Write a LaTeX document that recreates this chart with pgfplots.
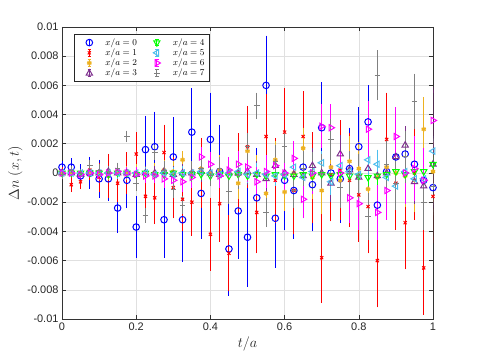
\documentclass[border=0pt]{standalone}
\usepackage{fontspec}
\setmainfont{Liberation Sans}
\usepackage{pgfplots}
\pgfplotsset{compat=1.18}
\usepackage{pgfplotstable}

\definecolor{c0}{rgb}{0,0,1}
\definecolor{c1}{rgb}{1,0,0}
\definecolor{c2}{rgb}{0.929,0.694,0.125}
\definecolor{c3}{rgb}{0.494,0.184,0.556}
\definecolor{c4}{rgb}{0,1,0}
\definecolor{c5}{rgb}{0.302,0.745,0.933}
\definecolor{c6}{rgb}{1,0,1}
\definecolor{c7}{rgb}{0.5,0.5,0.5}

% columns: t/a, Delta n, error
\pgfplotstableread{
t y e
0.000 0.0004 0.0002
0.025 0.0004 0.0004
0.050 -0.0002 0.0006
0.075 0.0000 0.0009
0.100 -0.0004 0.0011
0.125 -0.0004 0.0013
0.150 -0.0024 0.0015
0.175 -0.0005 0.0017
0.200 -0.0037 0.0019
0.225 0.0016 0.0021
0.250 0.0018 0.0022
0.275 -0.0032 0.0024
0.300 0.0011 0.0025
0.325 -0.0032 0.0027
0.350 0.0028 0.0028
0.375 -0.0014 0.0029
0.400 0.0023 0.0030
0.425 0.0001 0.0030
0.450 -0.0052 0.0030
0.475 -0.0026 0.0031
0.500 -0.0044 0.0032
0.525 -0.0017 0.0032
0.550 0.0060 0.0032
0.575 -0.0031 0.0032
0.600 -0.0005 0.0032
0.625 -0.0012 0.0031
0.650 0.0004 0.0030
0.675 -0.0008 0.0030
0.700 0.0031 0.0029
0.725 0.0000 0.0029
0.750 -0.0004 0.0028
0.775 0.0003 0.0026
0.800 0.0018 0.0025
0.825 0.0035 0.0023
0.850 -0.0022 0.0022
0.875 0.0001 0.0020
0.900 0.0011 0.0018
0.925 0.0013 0.0017
0.950 0.0006 0.0015
0.975 -0.0005 0.0013
1.000 -0.0010 0.0012
}\xa
\pgfplotstableread{
t y e
0.000 0.0000 0.0002
0.025 -0.0008 0.0003
0.050 -0.0006 0.0003
0.075 0.0002 0.0005
0.100 -0.0003 0.0008
0.125 -0.0002 0.0013
0.150 -0.0007 0.0011
0.175 0.0000 0.0012
0.200 0.0013 0.0013
0.225 -0.0016 0.0016
0.250 -0.0017 0.0016
0.275 0.0014 0.0017
0.300 -0.0010 0.0019
0.325 -0.0018 0.0020
0.350 -0.0020 0.0021
0.375 0.0000 0.0022
0.400 -0.0042 0.0023
0.425 -0.0021 0.0024
0.450 -0.0055 0.0024
0.475 0.0000 0.0025
0.500 0.0018 0.0026
0.525 -0.0027 0.0026
0.550 0.0025 0.0027
0.575 -0.0005 0.0027
0.600 0.0028 0.0028
0.625 -0.0012 0.0028
0.650 0.0025 0.0029
0.675 -0.0003 0.0029
0.700 -0.0058 0.0029
0.725 -0.0001 0.0030
0.750 0.0002 0.0032
0.775 -0.0005 0.0030
0.800 -0.0015 0.0030
0.825 -0.0023 0.0030
0.850 -0.0060 0.0030
0.875 0.0023 0.0030
0.900 -0.0007 0.0030
0.925 -0.0034 0.0030
0.950 0.0000 0.0030
0.975 -0.0065 0.0030
1.000 -0.0016 0.0030
}\xb
\pgfplotstableread{
t y e
0.000 0.0000 0.0001
0.025 0.0000 0.0001
0.050 -0.0001 0.0001
0.075 0.0001 0.0002
0.100 0.0000 0.0002
0.125 0.0000 0.0003
0.150 0.0001 0.0003
0.175 0.0000 0.0003
0.200 0.0000 0.0004
0.225 -0.0001 0.0004
0.250 0.0000 0.0005
0.275 0.0002 0.0005
0.300 0.0001 0.0005
0.325 0.0009 0.0004
0.350 0.0000 0.0006
0.375 0.0003 0.0007
0.400 0.0000 0.0007
0.425 0.0002 0.0008
0.450 0.0000 0.0008
0.475 -0.0007 0.0009
0.500 0.0015 0.0009
0.525 0.0000 0.0010
0.550 -0.0014 0.0010
0.575 0.0009 0.0011
0.600 -0.0013 0.0011
0.625 0.0000 0.0012
0.650 0.0017 0.0012
0.675 -0.0003 0.0013
0.700 -0.0012 0.0014
0.725 0.0004 0.0014
0.750 -0.0005 0.0015
0.775 0.0008 0.0015
0.800 0.0003 0.0016
0.825 -0.0011 0.0016
0.850 -0.0003 0.0017
0.875 0.0004 0.0017
0.900 0.0000 0.0018
0.925 -0.0002 0.0019
0.950 -0.0005 0.0020
0.975 0.0030 0.0020
1.000 0.0001 0.0021
}\xc
\pgfplotstableread{
t y e
0.000 0.0000 0.0001
0.025 0.0000 0.0001
0.050 -0.0001 0.0001
0.075 0.0000 0.0001
0.100 0.0000 0.0002
0.125 0.0001 0.0002
0.150 0.0000 0.0002
0.175 0.0000 0.0002
0.200 -0.0001 0.0003
0.225 0.0000 0.0003
0.250 0.0000 0.0003
0.275 0.0001 0.0004
0.300 -0.0001 0.0004
0.325 0.0000 0.0004
0.350 0.0000 0.0005
0.375 0.0001 0.0005
0.400 0.0000 0.0005
0.425 -0.0001 0.0006
0.450 0.0000 0.0006
0.475 0.0000 0.0007
0.500 0.0001 0.0007
0.525 -0.0001 0.0007
0.550 -0.0004 0.0008
0.575 0.0005 0.0008
0.600 0.0000 0.0009
0.625 -0.0001 0.0009
0.650 -0.0002 0.0009
0.675 0.0005 0.0010
0.700 0.0000 0.0010
0.725 -0.0007 0.0011
0.750 0.0013 0.0011
0.775 0.0002 0.0011
0.800 -0.0003 0.0012
0.825 0.0003 0.0012
0.850 -0.0002 0.0012
0.875 0.0000 0.0013
0.900 0.0011 0.0013
0.925 0.0019 0.0011
0.950 -0.0006 0.0013
0.975 -0.0009 0.0014
1.000 0.0006 0.0014
}\xd
\pgfplotstableread{
t y e
0.000 0.0000 0.0001
0.025 0.0000 0.0001
0.050 0.0000 0.0001
0.075 0.0000 0.0001
0.100 0.0000 0.0001
0.125 -0.0001 0.0001
0.150 0.0000 0.0001
0.175 0.0000 0.0001
0.200 -0.0001 0.0001
0.225 0.0000 0.0001
0.250 -0.0001 0.0001
0.275 -0.0001 0.0002
0.300 0.0000 0.0002
0.325 -0.0001 0.0002
0.350 -0.0001 0.0002
0.375 -0.0001 0.0002
0.400 -0.0002 0.0002
0.425 -0.0001 0.0002
0.450 -0.0002 0.0002
0.475 -0.0001 0.0002
0.500 -0.0002 0.0002
0.525 -0.0001 0.0003
0.550 -0.0002 0.0003
0.575 -0.0001 0.0003
0.600 -0.0002 0.0003
0.625 -0.0002 0.0003
0.650 -0.0001 0.0003
0.675 -0.0002 0.0003
0.700 -0.0001 0.0003
0.725 -0.0002 0.0003
0.750 -0.0001 0.0003
0.775 -0.0002 0.0003
0.800 -0.0002 0.0004
0.825 -0.0003 0.0004
0.850 -0.0002 0.0004
0.875 -0.0001 0.0004
0.900 0.0001 0.0004
0.925 -0.0001 0.0004
0.950 0.0001 0.0004
0.975 0.0001 0.0004
1.000 0.0006 0.0004
}\xe
\pgfplotstableread{
t y e
0.000 0.0000 0.0001
0.025 0.0000 0.0001
0.050 0.0000 0.0001
0.075 0.0000 0.0001
0.100 0.0000 0.0001
0.125 0.0000 0.0001
0.150 0.0000 0.0002
0.175 0.0000 0.0002
0.200 0.0000 0.0002
0.225 0.0000 0.0002
0.250 -0.0001 0.0002
0.275 0.0000 0.0002
0.300 -0.0001 0.0003
0.325 0.0000 0.0003
0.350 0.0000 0.0003
0.375 0.0001 0.0003
0.400 0.0000 0.0003
0.425 -0.0001 0.0004
0.450 0.0000 0.0004
0.475 0.0001 0.0004
0.500 -0.0001 0.0004
0.525 0.0000 0.0005
0.550 -0.0001 0.0005
0.575 -0.0002 0.0005
0.600 -0.0001 0.0005
0.625 0.0004 0.0006
0.650 -0.0003 0.0006
0.675 0.0001 0.0006
0.700 0.0007 0.0006
0.725 -0.0006 0.0007
0.750 0.0005 0.0007
0.775 0.0001 0.0007
0.800 -0.0001 0.0007
0.825 0.0009 0.0008
0.850 0.0006 0.0008
0.875 -0.0003 0.0008
0.900 -0.0009 0.0008
0.925 0.0001 0.0008
0.950 -0.0004 0.0008
0.975 -0.0004 0.0008
1.000 0.0015 0.0008
}\xf
\pgfplotstableread{
t y e
0.000 0.0000 0.0001
0.025 0.0000 0.0001
0.050 -0.0001 0.0001
0.075 0.0000 0.0001
0.100 -0.0001 0.0002
0.125 0.0000 0.0002
0.150 0.0001 0.0002
0.175 0.0000 0.0002
0.200 -0.0001 0.0003
0.225 -0.0002 0.0003
0.250 -0.0002 0.0003
0.275 -0.0004 0.0004
0.300 -0.0005 0.0004
0.325 -0.0006 0.0005
0.350 -0.0003 0.0005
0.375 0.0011 0.0005
0.400 0.0006 0.0006
0.425 -0.0002 0.0006
0.450 0.0002 0.0007
0.475 0.0006 0.0007
0.500 0.0004 0.0008
0.525 -0.0006 0.0008
0.550 0.0001 0.0009
0.575 0.0005 0.0009
0.600 0.0000 0.0010
0.625 0.0010 0.0010
0.650 -0.0018 0.0011
0.675 0.0000 0.0012
0.700 0.0032 0.0013
0.725 0.0031 0.0014
0.750 0.0000 0.0014
0.775 -0.0017 0.0015
0.800 -0.0021 0.0016
0.825 0.0030 0.0017
0.850 -0.0027 0.0017
0.875 -0.0012 0.0018
0.900 0.0025 0.0018
0.925 0.0000 0.0019
0.950 0.0003 0.0020
0.975 -0.0005 0.0020
1.000 0.0036 0.0021
}\xg
\pgfplotstableread{
t y e
0.000 -0.0001 0.0001
0.025 0.0002 0.0001
0.050 0.0000 0.0001
0.075 0.0005 0.0002
0.100 0.0002 0.0002
0.125 0.0001 0.0002
0.150 0.0003 0.0002
0.175 0.0025 0.0002
0.200 -0.0007 0.0003
0.225 -0.0029 0.0003
0.250 0.0014 0.0003
0.275 0.0002 0.0004
0.300 -0.0011 0.0004
0.325 -0.0022 0.0004
0.350 0.0001 0.0005
0.375 0.0003 0.0005
0.400 -0.0002 0.0005
0.425 0.0003 0.0006
0.450 -0.0013 0.0006
0.475 -0.0002 0.0007
0.500 0.0018 0.0007
0.525 0.0046 0.0007
0.550 -0.0027 0.0008
0.575 0.0008 0.0009
0.600 0.0018 0.0009
0.625 -0.0012 0.0010
0.650 0.0003 0.0010
0.675 0.0001 0.0011
0.700 0.0000 0.0011
0.725 0.0023 0.0012
0.750 -0.0010 0.0012
0.775 0.0000 0.0013
0.800 -0.0002 0.0013
0.825 -0.0030 0.0014
0.850 0.0067 0.0015
0.875 0.0006 0.0015
0.900 -0.0007 0.0016
0.925 0.0011 0.0016
0.950 0.0049 0.0017
0.975 -0.0020 0.0017
1.000 -0.0009 0.0018
}\xh

\pgfplotsset{
  errleg/.style={legend image code/.code={
    \draw[solid,line width=1pt] (0.3cm,-0.12cm)--(0.3cm,0.12cm)
      (0.24cm,-0.12cm)--(0.36cm,-0.12cm) (0.24cm,0.12cm)--(0.36cm,0.12cm);
    \draw plot coordinates {(0.3cm,0cm)};
    \path (-0.1cm,0cm) (0.78cm,0cm);}},
  ser/.style={only marks, line width=1pt, errleg,
    error bars/.cd, y dir=both, y explicit,
    error bar style={line width=1pt, solid},
    error mark options={mark size=3bp, line width=1pt},
    /pgfplots/.cd},
}

\begin{document}
\begin{tikzpicture}
\useasboundingbox (-62bp,-40bp) rectangle (416bp,319bp);
\begin{axis}[
  scale only axis,
  width=371bp, height=292bp,
  xmin=0, xmax=1, ymin=-0.01, ymax=0.01,
  xtick={0,0.2,0.4,0.6,0.8,1},
  xticklabels={0,0.2,0.4,0.6,0.8,1},
  ytick={-0.01,-0.008,-0.006,-0.004,-0.002,0,0.002,0.004,0.006,0.008,0.01},
  yticklabels={-0.01,-0.008,-0.006,-0.004,-0.002,0,0.002,0.004,0.006,0.008,0.01},
  scaled ticks=false,
  tick align=inside, major tick length=4bp,
  grid=major, grid style={black!12, line width=0.6pt},
  axis line style={black!80, line width=0.6pt},
  tick style={black!80, line width=0.6pt},
  tick label style={font=\fontsize{11}{13}\selectfont, text=black!85},
  xlabel={$t/a$}, ylabel={$\Delta n\;(x,t)$},
  label style={font=\fontsize{13.5}{15}\selectfont, text=black!85},
  ylabel style={yshift=-2bp},
  legend style={at={(axis description cs:0,1)}, anchor=north west,
    xshift=12bp, yshift=-7bp, draw=black!85, line width=1pt,
    font=\fontsize{9}{10}\selectfont, legend columns=4,
    row sep=-2pt,
    /tikz/every even column/.append style={column sep=6bp}},
  transpose legend,
  legend cell align=left,
]
\addplot[ser, c0, mark=o, mark size=3.3bp] table[x=t, y=y, y error=e] {\xa};
\addplot[ser, c1, mark=x, mark size=2.2bp] table[x=t, y=y, y error=e] {\xb};
\addplot[ser, c2, mark=asterisk, mark size=2.4bp, mark options={line width=1.4pt}] table[x=t, y=y, y error=e] {\xc};
\addplot[ser, c3, mark=triangle, mark size=3.6bp] table[x=t, y=y, y error=e] {\xd};
\addplot[ser, c4, mark=triangle, mark size=3.6bp, mark options={rotate=180}] table[x=t, y=y, y error=e] {\xe};
\addplot[ser, c5, mark=triangle, mark size=3.6bp, mark options={rotate=90}] table[x=t, y=y, y error=e] {\xf};
\addplot[ser, c6, mark=triangle, mark size=3.6bp, mark options={rotate=-90}] table[x=t, y=y, y error=e] {\xg};
\addplot[ser, c7, mark=+, mark size=2.8bp] table[x=t, y=y, y error=e] {\xh};
\legend{$x/a=0$,$x/a=1$,$x/a=2$,$x/a=3$,$x/a=4$,$x/a=5$,$x/a=6$,$x/a=7$}
\end{axis}
\end{tikzpicture}
\end{document}
